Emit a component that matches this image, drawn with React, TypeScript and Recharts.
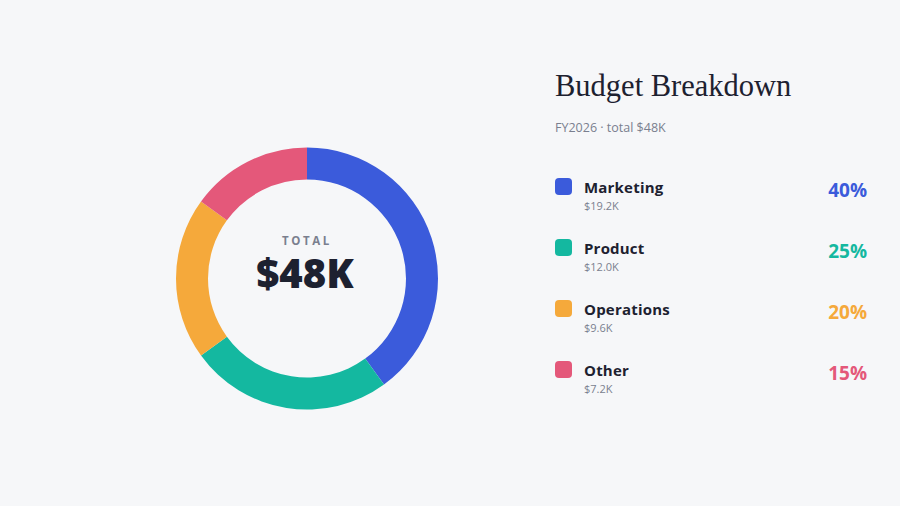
import { PieChart, Pie, Cell, Label, Legend } from 'recharts';

const categories = ['Marketing', 'Product', 'Operations', 'Other'];
const amounts = [19.2, 12.0, 9.6, 7.2];
const shares = [40, 25, 20, 15];
const colors = ['#3b5bdb', '#14b8a0', '#f5a93b', '#e4587a'];
const totalLabel = '$48K';
const title = 'Budget Breakdown';
const subtitle = 'FY2026 · total $48K';

const data = categories.map((name, i) => ({ name, value: amounts[i], share: shares[i] }));

const SANS = '"Open Sans", "Noto Sans", sans-serif';
const DARK = '#1d2130';
const GRAY = '#7a7f8f';
const CX = 307;
const CY = 278.5;

const CenterLabel = (props: any) => {
  const vb = props.viewBox || {};
  const cx = typeof vb.cx === 'number' ? vb.cx : CX;
  const cy = typeof vb.cy === 'number' ? vb.cy : CY;
  return (
    <g>
      <text x={cx} y={cy - 34} textAnchor="middle" fontFamily={SANS} fontSize={11.5} fontWeight={700}
        letterSpacing={2.6} fill={GRAY}>
        TOTAL
      </text>
      <text x={cx - 2} y={cy + 9} textAnchor="middle" fontFamily={SANS} fontSize={40} fontWeight={800} fill={DARK}>
        {totalLabel}
      </text>
    </g>
  );
};

const LegendPanel = () => (
  <svg width={340} height={350} style={{ display: 'block', overflow: 'visible' }}>
    <text x={15} y={36} fontFamily='"Liberation Serif", "DejaVu Serif", serif' fontSize={30.5} fill={DARK}>
      {title}
    </text>
    <text x={15} y={72} fontFamily={SANS} fontSize={12.5} fill={GRAY}>
      {subtitle}
    </text>
    {data.map((d, i) => {
      const y = 118 + i * 61;
      return (
        <g key={d.name}>
          <rect x={15} y={y} width={17} height={17} rx={4} fill={colors[i]} />
          <text x={44} y={y + 15} fontFamily={SANS} fontSize={15} fontWeight={700} letterSpacing={0.2} fill={DARK}>
            {d.name}
          </text>
          <text x={44} y={y + 32} fontFamily={SANS} fontSize={11} fill={GRAY}>
            ${d.value.toFixed(1)}K
          </text>
          <text x={327} y={y + 19} textAnchor="end" fontFamily={SANS} fontSize={19} fontWeight={700} fill={colors[i]}>
            {d.share}%
          </text>
        </g>
      );
    })}
  </svg>
);

export default function App() {
  return (
    <div style={{ position: 'absolute', left: 0, top: 0, width: 900, height: 506, background: '#f6f7f9' }}>
      <PieChart width={900} height={506} margin={{ top: 0, right: 0, bottom: 0, left: 0 }}>
        <Pie
          data={data}
          dataKey="value"
          nameKey="name"
          cx={CX}
          cy={CY}
          innerRadius={99}
          outerRadius={131}
          startAngle={90}
          endAngle={-270}
          stroke="none"
          isAnimationActive={false}
        >
          {data.map((d, i) => (
            <Cell key={d.name} fill={colors[i]} />
          ))}
          <Label position="center" content={<CenterLabel />} />
        </Pie>
        <Legend
          content={<LegendPanel />}
          wrapperStyle={{ position: 'absolute', left: 540, top: 60, width: 340, height: 350 }}
        />
      </PieChart>
    </div>
  );
}
